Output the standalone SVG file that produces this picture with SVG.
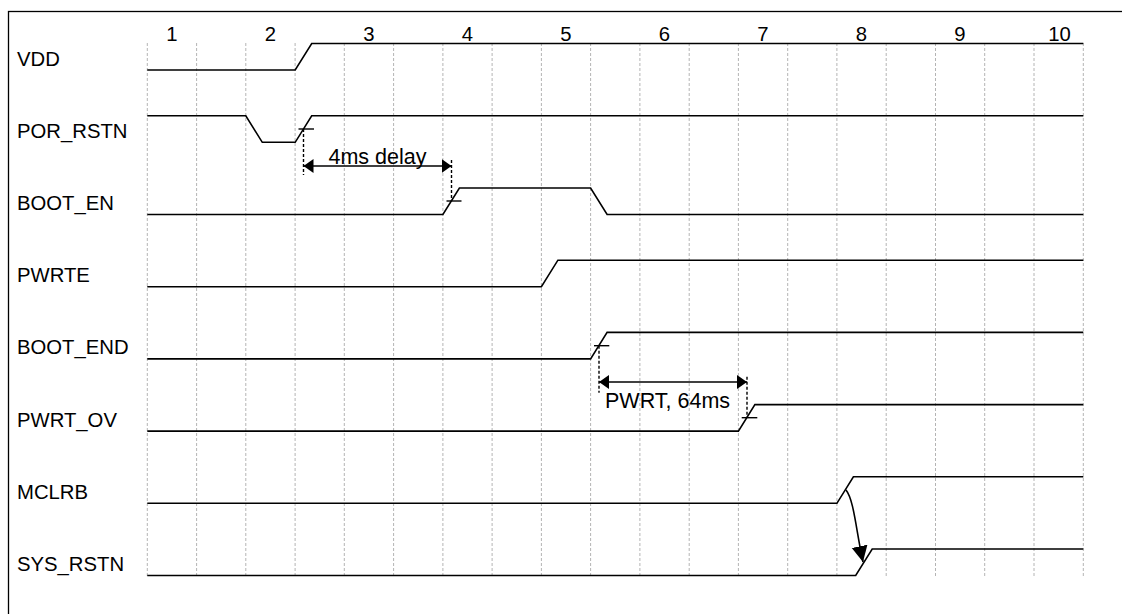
<svg xmlns="http://www.w3.org/2000/svg" width="1122" height="614" viewBox="0 0 1122 614">
<style>
text{font-family:"Liberation Sans",Arial,sans-serif;font-size:20.3px;fill:#000}
.ann{font-size:21.5px}
.grid{stroke:#b4b4b4;stroke-width:1;stroke-dasharray:3,2;fill:none}
.sig{stroke:#000;stroke-width:1.6;fill:none;stroke-linejoin:miter}
.tick{stroke:#000;stroke-width:1.4;fill:none}
.dot{stroke:#000;stroke-width:1.4;stroke-dasharray:3,2;fill:none}
.arr{stroke:#000;stroke-width:1.6;fill:none}
.num{text-anchor:middle}
</style>
<defs>
<marker id="ah" markerUnits="userSpaceOnUse" markerWidth="12" markerHeight="16" refX="10" refY="7" orient="auto-start-reverse" viewBox="0 0 12 16">
<path d="M0,0 L10,7 L0,14 z" fill="#000"/>
</marker>
<marker id="ah2" markerUnits="userSpaceOnUse" markerWidth="18" markerHeight="18" refX="16" refY="8" orient="auto" viewBox="0 0 18 18">
<path d="M0,0 L16,8 L0,16 z" fill="#000"/>
</marker>
</defs>
<rect x="8.5" y="11.5" width="1200" height="700" fill="#fff" stroke="#000" stroke-width="1.3"/>
<g id="grid">
<path class="grid" d="M147.3,43V576 M196.6,43V576 M245.8,43V576 M295.1,43V576 M344.3,43V576 M393.6,43V576 M442.9,43V576 M492.1,43V576 M541.4,43V576 M590.6,43V576 M639.9,43V576 M689.2,43V576 M738.4,43V576 M787.7,43V576 M836.9,43V576 M886.2,43V576 M935.5,43V576 M984.7,43V576 M1034,43V576 M1083.3,43V576"/>
</g>
<g id="cycle-numbers">
<text class="num" x="172" y="40.5">1</text>
<text class="num" x="270.5" y="40.5">2</text>
<text class="num" x="369" y="40.5">3</text>
<text class="num" x="467.5" y="40.5">4</text>
<text class="num" x="566" y="40.5">5</text>
<text class="num" x="664.5" y="40.5">6</text>
<text class="num" x="763" y="40.5">7</text>
<text class="num" x="861.5" y="40.5">8</text>
<text class="num" x="960" y="40.5">9</text>
<text class="num" x="1059.5" y="40.5">10</text>
</g>
<g id="VDD">
<text x="17" y="66">VDD</text>
<path class="sig" d="M147.3,70 H295.2 L311.7,43.5 H1083.3"/>
</g>
<g id="POR_RSTN">
<text x="17" y="138">POR_RSTN</text>
<path class="sig" d="M147.3,115.8 H245.8 L262.3,142.3 H295.2 L311.7,115.8 H1083.3"/>
<path class="tick" d="M298.5,129 H314"/>
</g>
<g id="BOOT_EN">
<text x="17" y="210">BOOT_EN</text>
<path class="sig" d="M147.3,214.5 H442.9 L459.4,188 H590.6 L607.1,214.5 H1083.3"/>
<path class="tick" d="M446.5,201 H461.5"/>
</g>
<g id="PWRTE">
<text x="17" y="282">PWRTE</text>
<path class="sig" d="M147.3,286.7 H541.4 L557.9,260.2 H1083.3"/>
</g>
<g id="BOOT_END">
<text x="17" y="354">BOOT_END</text>
<path class="sig" d="M147.3,358.9 H590.6 L607.1,332.4 H1083.3"/>
<path class="tick" d="M594,345.7 H609.3"/>
</g>
<g id="PWRT_OV">
<text x="17" y="426.5">PWRT_OV</text>
<path class="sig" d="M147.3,431.1 H738.4 L754.9,404.6 H1083.3"/>
<path class="tick" d="M741.7,417.7 H757.3"/>
</g>
<g id="MCLRB">
<text x="17" y="498.5">MCLRB</text>
<path class="sig" d="M147.3,503.3 H836.9 L853.4,476.8 H1083.3"/>
</g>
<g id="SYS_RSTN">
<text x="17" y="570.5">SYS_RSTN</text>
<path class="sig" d="M147.3,575.5 H855.7 L872.2,549 H1083.3"/>
</g>
<g id="connectors">
<path class="dot" d="M303.5,129 V175"/>
<path class="dot" d="M451.5,160 V201"/>
<path class="arr" d="M303.5,166 H451.5" marker-start="url(#ah)" marker-end="url(#ah)"/>
<text class="ann" x="377.5" y="163.5" text-anchor="middle">4ms delay</text>
<path class="dot" d="M599,345.7 V392.7"/>
<path class="dot" d="M747,376.7 V417.7"/>
<path class="arr" d="M599,382 H747" marker-start="url(#ah)" marker-end="url(#ah)"/>
<text class="ann" x="605" y="407.5">PWRT, 64ms</text>
<path class="arr" d="M846,490 C854,500 856,530 863,562" marker-end="url(#ah2)"/>
</g>
</svg>
